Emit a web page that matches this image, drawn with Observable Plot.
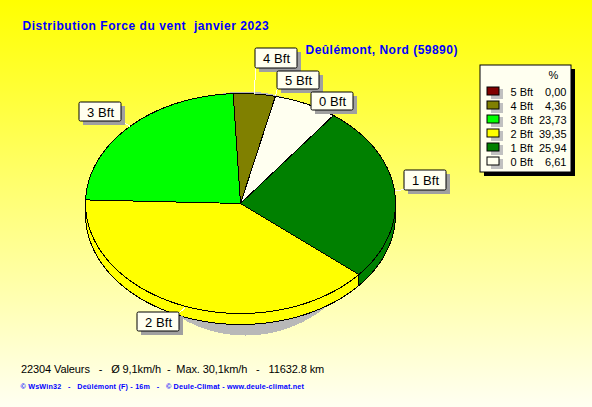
<!DOCTYPE html>
<html><head><meta charset="utf-8">
<script src="https://cdn.jsdelivr.net/npm/d3@7"></script>
<script src="https://cdn.jsdelivr.net/npm/@observablehq/plot@0.6"></script>
<style>
html,body{margin:0;padding:0;background:#fff}
svg{display:block}
</style></head><body>
<script>
// ---- data ----
const categories = ["5 Bft","4 Bft","3 Bft","2 Bft","1 Bft","0 Bft"];
const percents = [0.00,4.36,23.73,39.35,25.94,6.61];
const percentLabels = ["0,00","4,36","23,73","39,35","25,94","6,61"];
const colors = ["#800000","#808000","#00ff00","#ffff00","#008000","#fffff0"];
const titleText = "Distribution Force du vent\u00a0 janvier 2023";
const placeText = "Deûlémont, Nord (59890)";
const footerText = "22304 Valeurs \u00a0 - \u00a0 Ø 9,1km/h \u00a0- \u00a0Max. 30,1km/h \u00a0 - \u00a0 11632.8 km";
const creditText = "© WsWin32 \u00a0 - \u00a0 Deûlémont (F) - 16m \u00a0 - \u00a0 © Deule-Climat - www.deule-climat.net";

// ---- layout (px) ----
const W = 592, H = 407;
const pie = {cx:240, cy:203, rx:155, ry:110, depth:11, start:77};
const shadow = {cx:245, cy:213, rx:125, ry:122};
// label boxes [x1,y1,x2,y2] and the point where the leader touches the box
const labelBoxes = {
  "5 Bft":{box:[277,71,319,89],tail:[277,88]},
  "4 Bft":{box:[255,48,297,68],tail:[255,68]},
  "3 Bft":{box:[79,102,121,121],tail:[121,121]},
  "2 Bft":{box:[137,312,179,331],tail:[179,312]},
  "1 Bft":{box:[404,170,446,190],tail:[404,189]},
  "0 Bft":{box:[311,92,353,110],tail:[311,110]}
};
const legendBox = {x1:480,y1:65,x2:571,y2:172};
const legendRowY = [91,105,119,133,147,161];

// ---- geometry derived from values ----
const rad = d => d*Math.PI/180;
const px = (a,p=pie) => p.cx + p.rx*Math.cos(rad(a));
const py = (a,p=pie,off=0) => p.cy - p.ry*Math.sin(rad(a)) + off;
function arc(a0,a1,off=0){
  const n = Math.max(2,Math.ceil(Math.abs(a1-a0)/1.5)), out=[];
  for(let i=0;i<=n;i++){const a=a0+(a1-a0)*i/n; out.push({x:px(a),y:py(a,pie,off)});}
  return out;
}
let cum = pie.start;
const slices = categories.map((c,i)=>{
  const a0 = cum, a1 = cum + percents[i]*3.6; cum = a1;
  return {name:c,color:colors[i],a0,a1,mid:(a0+a1)/2};
});
const fontF = "Liberation Sans, Arial, sans-serif";
const spaced = ls => (index,scales,values,dims,ctx,next)=>{
  const g = next(index,scales,values,dims,ctx);
  g.style.letterSpacing = ls; return g;
};

const marks = [];
const poly = (pts,fill,stroke="#000") => Plot.line(pts,{x:"x",y:"y",fill,stroke,strokeWidth:1,
  curve:"linear-closed",shapeRendering:"crispEdges"});

// drop shadow of the pie
const sh=[]; for(let a=0;a<360;a+=3) sh.push({x:px(a,shadow),y:py(a,shadow)});
marks.push(poly(sh,"#b8b8b8","none"));

// side wall: only the front half (180..360) is seen
for(const s of slices){
  for(const k of [0,360]){
    const a0 = Math.max(s.a0+k,180), a1 = Math.min(s.a1+k,360);
    if(a1>a0) marks.push(poly([...arc(a0,a1,0),...arc(a1,a0,pie.depth)],s.color));
  }
}
// top face
for(const s of slices){
  marks.push(poly([{x:pie.cx,y:pie.cy},...arc(s.a0,s.a1)],s.color));
}
// leaders
const leaders = slices.map(s=>({x1:px(s.mid),y1:py(s.mid)+(Math.sin(rad(s.mid))<0?pie.depth*0.15:0),
  x2:labelBoxes[s.name].tail[0],y2:labelBoxes[s.name].tail[1]}));
marks.push(Plot.link(leaders,{x1:"x1",y1:"y1",x2:"x2",y2:"y2",stroke:"#fffff0",strokeWidth:1,shapeRendering:"crispEdges"}));
// label boxes (drawn in this order so later ones overlay earlier)
const boxOrder = ["3 Bft","2 Bft","1 Bft","4 Bft","5 Bft","0 Bft"];
const boxes = boxOrder.map(n=>{const b=labelBoxes[n].box;return {name:n,x1:b[0],y1:b[1],x2:b[2],y2:b[3]};});
for(const b of boxes){
  marks.push(Plot.rect([b],{x1:d=>d.x1+4,x2:d=>d.x2+4,y1:d=>d.y1+4,y2:d=>d.y2+4,fill:"#a0a0a0"}));
  marks.push(Plot.rect([b],{x1:"x1",x2:"x2",y1:"y1",y2:"y2",fill:"#fffff0",stroke:"#000",rx:1.5}));
  marks.push(Plot.text([b],{x:d=>(d.x1+d.x2)/2,y:d=>(d.y1+d.y2)/2+0.5,text:d=>d.name.replace(" ","\u00a0"),
    fontFamily:fontF,fontSize:13,fill:"#000",render:spaced("0.1px")}));
}
// legend
marks.push(Plot.rect([legendBox],{x1:d=>d.x1+4,x2:d=>d.x2+4,y1:d=>d.y1+4,y2:d=>d.y2+4,fill:"#000"}));
marks.push(Plot.rect([legendBox],{x1:"x1",x2:"x2",y1:"y1",y2:"y2",fill:"#fffff0",stroke:"#000"}));
const legendRows = categories.map((c,i)=>({name:c,pct:percentLabels[i],color:colors[i],y:legendRowY[i]}));
marks.push(Plot.rect(legendRows,{x1:491,x2:503,y1:d=>d.y-2,y2:d=>d.y+8,fill:"#c0c0c0"}));
marks.push(Plot.rect(legendRows,{x1:487,x2:499,y1:d=>d.y-4,y2:d=>d.y+4,fill:"color",stroke:"#000"}));
marks.push(Plot.text(legendRows,{x:510,y:d=>d.y+0.5,text:"name",textAnchor:"start",fontFamily:fontF,fontSize:11,fill:"#000"}));
marks.push(Plot.text(legendRows,{x:566,y:d=>d.y+0.5,text:"pct",textAnchor:"end",fontFamily:fontF,fontSize:11,fill:"#000"}));
marks.push(Plot.text(["%"],{x:553,y:75,text:d=>d,fontFamily:fontF,fontSize:11,fill:"#000"}));
// titles
marks.push(Plot.text([titleText],{x:22,y:26,text:d=>d,textAnchor:"start",fontFamily:fontF,fontWeight:"bold",fontSize:12,fill:"#0000ff",render:spaced("0.55px")}));
marks.push(Plot.text([placeText],{x:305,y:49.5,text:d=>d,textAnchor:"start",fontFamily:fontF,fontWeight:"bold",fontSize:12,fill:"#0000ff",render:spaced("0.48px")}));
marks.push(Plot.text([footerText],{x:20.5,y:369,text:d=>d,textAnchor:"start",fontFamily:fontF,fontSize:11,fill:"#000",render:spaced("-0.1px")}));
marks.push(Plot.text([creditText],{x:20,y:386,text:d=>d,textAnchor:"start",fontFamily:fontF,fontWeight:"bold",fontSize:7.2,fill:"#0000ff",render:spaced("0.2px")}));

const chart = Plot.plot({
  width:W,height:H,margin:0,
  style:{background:"linear-gradient(#ffff00,#fffff2)"},
  x:{domain:[0,W],range:[0,W],axis:null},
  y:{domain:[0,H],range:[0,H],axis:null},
  color:{type:"identity"},
  marks
});
document.body.appendChild(chart);
</script></body></html>
